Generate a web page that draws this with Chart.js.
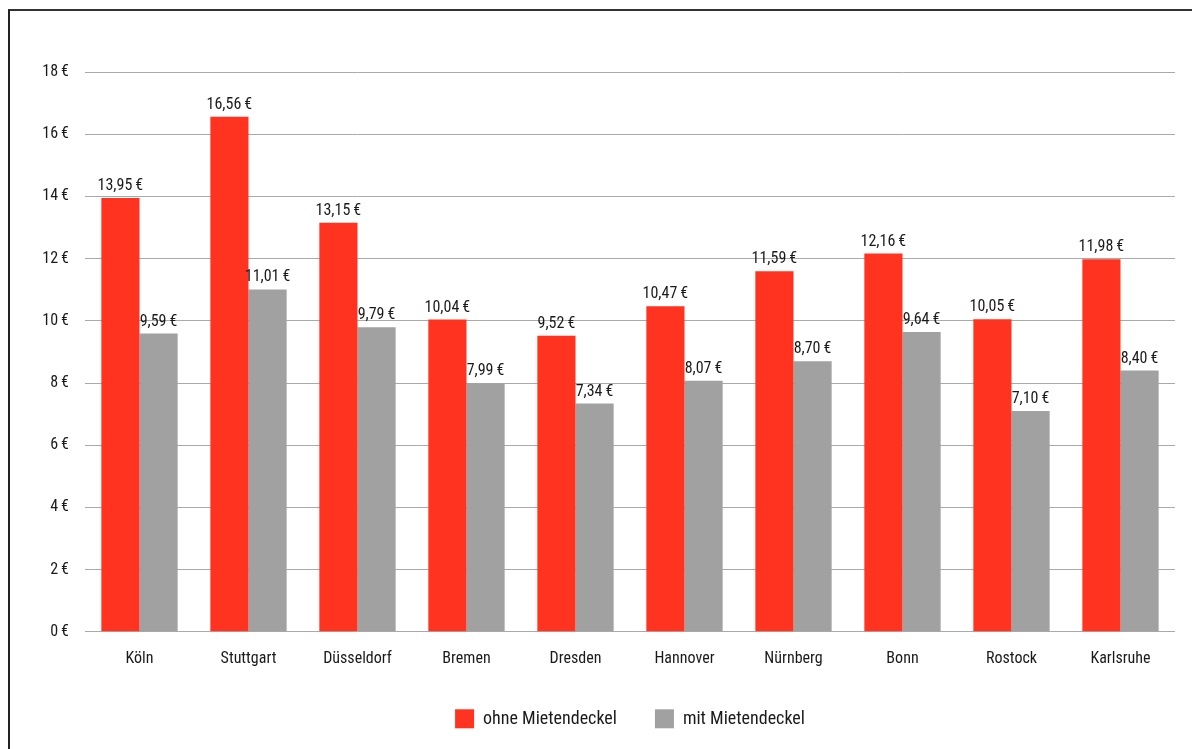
<!DOCTYPE html>
<html>
<head>
<meta charset="utf-8">
<script src="https://cdn.jsdelivr.net/npm/chart.js@4"></script>
<style>
  html, body { margin: 0; padding: 0; background: #fff; overflow: hidden; }
  #frame {
    position: absolute; left: 8px; top: 9px; width: 1190px; height: 745px;
    border-left: 2px solid #222; border-top: 2px solid #333; box-sizing: border-box;
  }
  #wrap { position: absolute; left: 0; top: 0; width: 1182px; height: 740px; }
</style>
</head>
<body>
<div id="frame"><div id="wrap"><canvas id="chart"></canvas></div></div>
<script>
const cities = ['Köln', 'Stuttgart', 'Düsseldorf', 'Bremen', 'Dresden', 'Hannover', 'Nürnberg', 'Bonn', 'Rostock', 'Karlsruhe'];
const ohneDeckel = [13.95, 16.56, 13.15, 10.04, 9.52, 10.47, 11.59, 12.16, 10.05, 11.98];
const mitDeckel = [9.59, 11.01, 9.79, 7.99, 7.34, 8.07, 8.70, 9.64, 7.10, 8.40];
const seriesNames = ['ohne Mietendeckel', 'mit Mietendeckel'];

const FONT = "'Liberation Sans Narrow', 'Roboto Condensed', 'DejaVu Sans Condensed', sans-serif";
const TEXT = '#1a1a1a';
const euro = v => v.toFixed(2).replace('.', ',') + '\u2009€';

// value labels above bars
const valueLabels = {
  id: 'valueLabels',
  afterDatasetsDraw(chart) {
    const ctx = chart.ctx;
    ctx.save();
    ctx.font = '16px ' + FONT;
    ctx.fillStyle = TEXT;
    ctx.textAlign = 'center';
    ctx.textBaseline = 'bottom';
    chart.data.datasets.forEach((ds, i) => {
      chart.getDatasetMeta(i).data.forEach((bar, j) => {
        ctx.fillText(euro(ds.data[j]), bar.x, bar.y - 4);
      });
    });
    ctx.restore();
  }
};

// legend below the axis, centred on the plot area
const bottomLegend = {
  id: 'bottomLegend',
  afterDraw(chart) {
    const ctx = chart.ctx;
    const box = 19, gap = 9, spacing = 38;
    const y = chart.chartArea.bottom + 87;
    ctx.save();
    ctx.font = '18px ' + FONT;
    ctx.textBaseline = 'middle';
    const items = chart.data.datasets.map(ds => ({
      text: ds.label, color: ds.backgroundColor, w: box + gap + ctx.measureText(ds.label).width
    }));
    const total = items.reduce((a, it) => a + it.w, 0) + spacing * (items.length - 1);
    let x = (chart.chartArea.left + chart.chartArea.right) / 2 - total / 2;
    items.forEach(it => {
      ctx.fillStyle = it.color;
      ctx.fillRect(x, y - box / 2, box, box);
      ctx.fillStyle = TEXT;
      ctx.fillText(it.text, x + box + gap, y + 1);
      x += it.w + spacing;
    });
    ctx.restore();
  }
};

new Chart(document.getElementById('chart').getContext('2d'), {
  type: 'bar',
  data: {
    labels: cities,
    datasets: [
      { label: seriesNames[0], data: ohneDeckel, backgroundColor: '#ff331f' },
      { label: seriesNames[1], data: mitDeckel, backgroundColor: '#a0a1a0' }
    ]
  },
  options: {
    responsive: true,
    maintainAspectRatio: false,
    animation: false,
    categoryPercentage: 0.7,
    barPercentage: 1.0,
    layout: { padding: { top: 61, right: 17, left: 0, bottom: 72 } },
    scales: {
      x: {
        grid: { display: false },
        border: { display: false },
        ticks: { color: TEXT, font: { family: FONT, size: 16 }, padding: 10 }
      },
      y: {
        min: 0, max: 18,
        afterFit: s => { s.width = 75; },
        grid: { color: '#aaaaaa', drawTicks: false, lineWidth: 1 },
        border: { display: false },
        ticks: {
          stepSize: 2, padding: 16, color: TEXT,
          font: { family: FONT, size: 16 },
          callback: v => v + '\u2009€'
        }
      }
    },
    plugins: {
      legend: { display: false },
      tooltip: { enabled: false }
    }
  },
  plugins: [valueLabels, bottomLegend]
});
</script>
</body>
</html>
